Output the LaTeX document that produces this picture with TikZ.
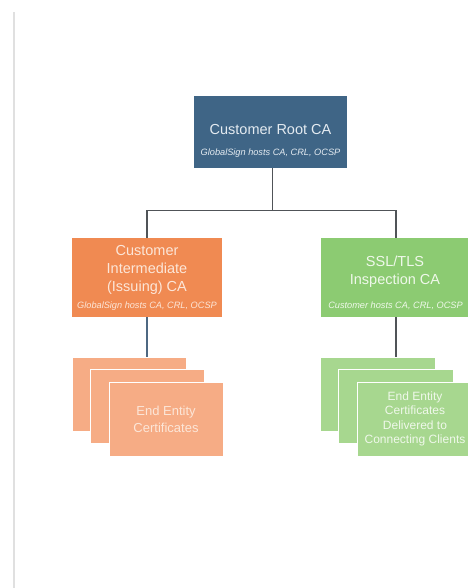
\documentclass[tikz,border=0pt]{standalone}
\usepackage{fontspec}
\setmainfont{Liberation Sans}
\usetikzlibrary{positioning}
\definecolor{rootblue}{HTML}{3F6586}
\definecolor{roottext}{HTML}{E4EBF1}
\definecolor{interorange}{HTML}{F08A52}
\definecolor{intertext}{HTML}{FCE6D8}
\definecolor{cardorange}{HTML}{F6AC85}
\definecolor{sslgreen}{HTML}{8CCB72}
\definecolor{ssltext}{HTML}{EFF8EA}
\definecolor{cardgreen}{HTML}{A7D78F}
\definecolor{linkgray}{HTML}{505458}
\definecolor{linkslate}{HTML}{4E6882}

\begin{document}
\begin{tikzpicture}[x=1pt, y=-1pt,
	box/.style={rectangle, inner sep=0pt},
	title/.style={align=center, font=\fontsize{14.5}{18}\selectfont},
	note/.style={font=\fontsize{9.2}{11}\selectfont\itshape},
	card/.style={rectangle, draw=white, line width=0.8pt, minimum width=114pt, minimum height=74pt, inner sep=0pt},
	link/.style={line width=1.4pt, color=linkgray}]
			%%%%% START %%%%%
			
			\useasboundingbox (0, 0) rectangle (467, 588);
			\draw[line width=1.5pt, color=black!12] (14, 12) -- (14, 588);
			
			% root
			\node[box, fill=rootblue, minimum width=153pt, minimum height=72pt] (root) at (270.5, 132) {};
			\node[title, text=roottext] (roottitle) at (270.5, 130) {Customer Root CA};
			\node[note, text=roottext] (rootnote) at (270.5, 153) {GlobalSign hosts CA, CRL, OCSP};
			
			% issuing CA
			\node[box, fill=interorange, minimum width=150pt, minimum height=79pt] (inter) at (147, 277.5) {};
			\node[title, text=intertext] (intertitle) at (147, 270) {Customer\\Intermediate\\(Issuing) CA};
			\node[note, text=intertext] (internote) at (147, 306) {GlobalSign hosts CA, CRL, OCSP};
			
			% inspection CA
			\node[box, fill=sslgreen, minimum width=150pt, minimum height=79pt] (ssl) at (396, 277.5) {};
			\node[title, text=ssltext] (ssltitle) at (395, 272) {SSL/TLS\\Inspection CA};
			\node[note, text=ssltext] (sslnote) at (395.5, 306) {Customer hosts CA, CRL, OCSP};
			
			% end entity cards
			\node[card, fill=cardorange] (interA) at (129, 394) {};
			\node[card, fill=cardorange] (interB) at (147, 406) {};
			\node[card, fill=cardorange, align=center, text=intertext, font=\fontsize{13}{17}\selectfont] (interC) at (166, 419) {End Entity\\Certificates};
			
			\node[card, fill=cardgreen, minimum width=115pt] (sslA) at (377.5, 394) {};
			\node[card, fill=cardgreen, minimum width=115pt] (sslB) at (395.5, 406) {};
			\node[card, fill=cardgreen, minimum width=115pt, align=center, text=ssltext, font=\fontsize{12}{14.5}\selectfont] (sslC) at (415, 419) {End Entity\\Certificates\\Delivered to\\Connecting Clients};
			
			% links
			\coordinate (split) at ([xshift=2pt, yshift=-42pt]root.south);
			\draw[link] ([xshift=2pt]root.south) -- (split);
			\draw[link] (split) -| (inter.north);
			\draw[link] (split) -| (ssl.north);
			\draw[link, color=linkslate] (inter.south) -- (inter.south |- interA.north);
			\draw[link] (ssl.south) -- (ssl.south |- sslA.north);
			
			%%%%% END %%%%%
		\end{tikzpicture}
\end{document}
